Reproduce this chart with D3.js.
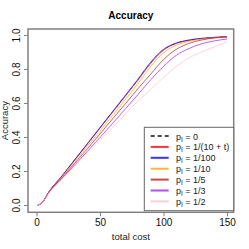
<!DOCTYPE html>
<html>
<head>
<meta charset="utf-8">
<script src="https://cdn.jsdelivr.net/npm/d3@7"></script>
<style>
body { margin: 0; background: #fff; }
text { font-family: "Liberation Sans", Arial, sans-serif; }
</style>
</head>
<body>
<script>
var cost = [1, 4, 10, 20, 30, 40, 50, 60, 70, 80, 90, 100, 110, 120, 130, 140, 150];

// accuracy per p_I setting
var accP0     = [0, 0.01, 0.08, 0.17, 0.265, 0.36, 0.455, 0.55, 0.645, 0.742, 0.84, 0.915, 0.952, 0.97, 0.98, 0.986, 0.99];
var accInvT   = [0, 0.01, 0.08, 0.17, 0.264, 0.358, 0.452, 0.546, 0.64, 0.735, 0.833, 0.91, 0.95, 0.968, 0.979, 0.985, 0.989];
var acc100    = [0, 0.01, 0.08, 0.17, 0.265, 0.36, 0.455, 0.55, 0.645, 0.74, 0.84, 0.915, 0.952, 0.97, 0.98, 0.986, 0.99];
var acc10     = [0, 0.01, 0.078, 0.165, 0.255, 0.345, 0.435, 0.527, 0.62, 0.715, 0.815, 0.895, 0.94, 0.962, 0.975, 0.983, 0.988];
var acc5      = [0, 0.01, 0.077, 0.16, 0.245, 0.33, 0.418, 0.507, 0.595, 0.685, 0.77, 0.855, 0.915, 0.95, 0.97, 0.982, 0.988];
var acc3      = [0, 0.01, 0.075, 0.155, 0.235, 0.315, 0.397, 0.48, 0.565, 0.65, 0.737, 0.815, 0.88, 0.92, 0.948, 0.965, 0.976];
var acc2      = [0, 0.01, 0.073, 0.15, 0.228, 0.305, 0.38, 0.455, 0.535, 0.612, 0.68, 0.75, 0.815, 0.865, 0.9, 0.93, 0.96];

var seriesNames = ["0", "1/(10 + t)", "1/100", "1/10", "1/5", "1/3", "1/2"];
var seriesVals = [accP0, accInvT, acc100, acc10, acc5, acc3, acc2];
var seriesColors = ["#000000", "#ff0000", "#0000ff", "#ffa500", "#b22222", "#a020f0", "#ffc0cb"];

var xTicks = [0, 50, 100, 150];
var yTicks = [0, 0.2, 0.4, 0.6, 0.8, 1.0];

var W = 249, H = 249;
var box = {left: 28, right: 233.7, top: 29, bottom: 212.3};

var svg = d3.select("body").append("svg")
    .attr("width", W)
    .attr("height", H);

var x = d3.scaleLinear().domain([-6.7, 155.3]).range([box.left, box.right]);
var y = d3.scaleLinear().domain([-0.043, 1.035]).range([box.bottom, box.top]);

var line = d3.line()
    .x(function(d) { return x(d[0]); })
    .y(function(d) { return y(d[1]); })
    .curve(d3.curveMonotoneX);

// lines (p=0 goes first, mostly hidden under the others)
seriesVals.forEach(function(vals, i) {
  var pts = cost.map(function(c, j) { return [c, vals[j]]; });
  svg.append("path")
    .attr("d", line(pts))
    .attr("fill", "none")
    .attr("stroke", seriesColors[i])
    .attr("stroke-width", 1)
    .attr("stroke-opacity", i == 0 ? 0.3 : 0.7)
    .attr("stroke-dasharray", i == 0 ? "4,3" : null);
});

// box
svg.append("rect")
  .attr("x", box.left).attr("y", box.top)
  .attr("width", box.right - box.left).attr("height", box.bottom - box.top)
  .attr("fill", "none").attr("stroke", "#808080").attr("stroke-width", 1.5);

// x axis
var xAxis = d3.axisBottom(x).tickValues(xTicks).tickSize(4).tickPadding(3).tickFormat(d3.format("d"));
var gx = svg.append("g").attr("transform", "translate(0," + box.bottom + ")").call(xAxis);
gx.select(".domain").remove();
gx.selectAll(".tick line").attr("stroke", "#808080");
gx.selectAll(".tick text").attr("font-size", 10).attr("fill", "#111").attr("font-family", "Liberation Sans, Arial, sans-serif");

// y axis
var yAxis = d3.axisLeft(y).tickValues(yTicks).tickSize(4).tickFormat(d3.format(".1f"));
var gy = svg.append("g").attr("transform", "translate(" + box.left + ",0)").call(yAxis);
gy.select(".domain").remove();
gy.selectAll(".tick line").attr("stroke", "#808080");
gy.selectAll(".tick text")
  .attr("font-size", 10).attr("fill", "#111")
  .attr("font-family", "Liberation Sans, Arial, sans-serif")
  .attr("x", null).attr("dy", null)
  .attr("text-anchor", "middle")
  .attr("transform", "translate(-8,0) rotate(-90)");

// title and labels
svg.append("text").attr("x", (box.left + box.right) / 2).attr("y", 18.5)
  .attr("text-anchor", "middle").attr("font-size", 10).attr("font-weight", "bold").text("Accuracy");
svg.append("text").attr("x", (box.left + box.right) / 2).attr("y", 240)
  .attr("text-anchor", "middle").attr("font-size", 9.5).attr("fill", "#222").text("total cost");
svg.append("text").attr("transform", "translate(7.5," + ((box.top + box.bottom) / 2) + ") rotate(-90)")
  .attr("text-anchor", "middle").attr("font-size", 9.5).attr("fill", "#222").text("Accuracy");

// legend
var lg = svg.append("g");
lg.append("rect")
  .attr("x", 144.3).attr("y", 127.3)
  .attr("width", box.right - 144.3).attr("height", 210.7 - 127.3)
  .attr("fill", "#fff").attr("stroke", "#666").attr("stroke-width", 1);

seriesNames.forEach(function(name, i) {
  var yy = 136 + i * 10.9;
  lg.append("line")
    .attr("x1", 150.7).attr("x2", 168.7).attr("y1", yy).attr("y2", yy)
    .attr("stroke", seriesColors[i])
    .attr("stroke-opacity", i == 0 ? 0.7 : 0.8)
    .attr("stroke-width", 2)
    .attr("stroke-dasharray", i == 0 ? "4,3" : null);
  var t = lg.append("text").attr("x", 176).attr("y", yy + 3.5).attr("font-size", 9).attr("fill", "#222");
  t.append("tspan").text("p");
  t.append("tspan").attr("font-size", 6.5).attr("dy", 2).text("I");
  t.append("tspan").attr("dy", -2).text(" = " + name);
});
</script>
</body>
</html>
